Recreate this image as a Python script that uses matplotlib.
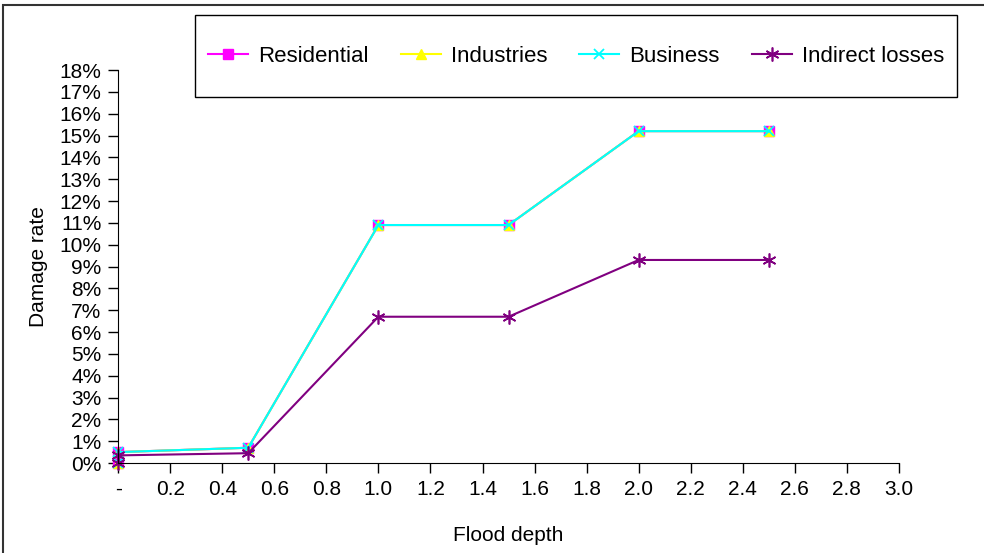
import numpy as np
import matplotlib.pyplot as plt
from matplotlib.patches import Rectangle

plt.rcParams['font.family'] = ['Liberation Sans', 'DejaVu Sans']

depth = [0, 0, 0.5, 1.0, 1.5, 2.0, 2.5]
residential = [0.0, 0.005, 0.007, 0.109, 0.109, 0.152, 0.152]
industries = [0.0, 0.005, 0.007, 0.109, 0.109, 0.152, 0.152]
business = [0.0, 0.005, 0.007, 0.109, 0.109, 0.152, 0.152]
indirect = [0.0, 0.0035, 0.0045, 0.067, 0.067, 0.093, 0.093]

xticks = np.arange(0, 3.01, 0.2)
xlabels = ['-'] + ['%.1f' % v for v in xticks[1:]]
yticks = np.arange(0, 0.181, 0.01)
ylabels = ['%d%%' % round(v * 100) for v in yticks]

fig = plt.figure(figsize=(9.84, 5.53), dpi=100)
ax = fig.add_axes([0.12, 0.1627, 0.7936, 0.7107])

# outer chart frame, only top and left edges fall inside the image
fig.patches.append(Rectangle((3 / 984, -0.05), 1.1, 1 - 5 / 553 + 0.05,
                             transform=fig.transFigure, fill=False,
                             edgecolor='#333333', linewidth=1.5))

ax.plot(depth, residential, color='#FF00FF', marker='s', markersize=7,
        linewidth=1.5, label='Residential', clip_on=False)
ax.plot(depth, industries, color='#FFFF00', marker='^', markersize=7,
        linewidth=1.5, label='Industries', clip_on=False)
ax.plot(depth, business, color='#00FFFF', marker='x', markersize=7,
        markeredgewidth=1.3, linewidth=1.5, label='Business', clip_on=False)
ax.plot(depth, indirect, color='#800080', marker=(6, 2, 0), markersize=10,
        markeredgewidth=1.2, linewidth=1.5, label='Indirect losses', clip_on=False)

ax.set_xlim(0, 3.0)
ax.set_ylim(0, 0.18)
ax.set_xticks(xticks)
ax.set_xticklabels(xlabels)
ax.set_yticks(yticks)
ax.set_yticklabels(ylabels)
ax.tick_params(labelsize=15, length=7, width=1, direction='out', pad=5)
ax.spines['top'].set_visible(False)
ax.spines['right'].set_visible(False)
ax.set_xlabel('Flood depth', fontsize=15, labelpad=20)
ax.set_ylabel('Damage rate', fontsize=15, labelpad=8)

# legend box
box = (195 / 984, 1 - 97 / 553, 762 / 984, 82 / 553)
fig.patches.append(Rectangle(box[:2], box[2], box[3], transform=fig.transFigure,
                             fill=False, edgecolor='black', linewidth=1.0))
fig.legend(loc='center', bbox_to_anchor=box, ncol=4, fontsize=16,
           frameon=False, handlelength=1.8, columnspacing=1.45,
           handletextpad=0.45, borderaxespad=0)

plt.savefig('out.png', dpi=100)
